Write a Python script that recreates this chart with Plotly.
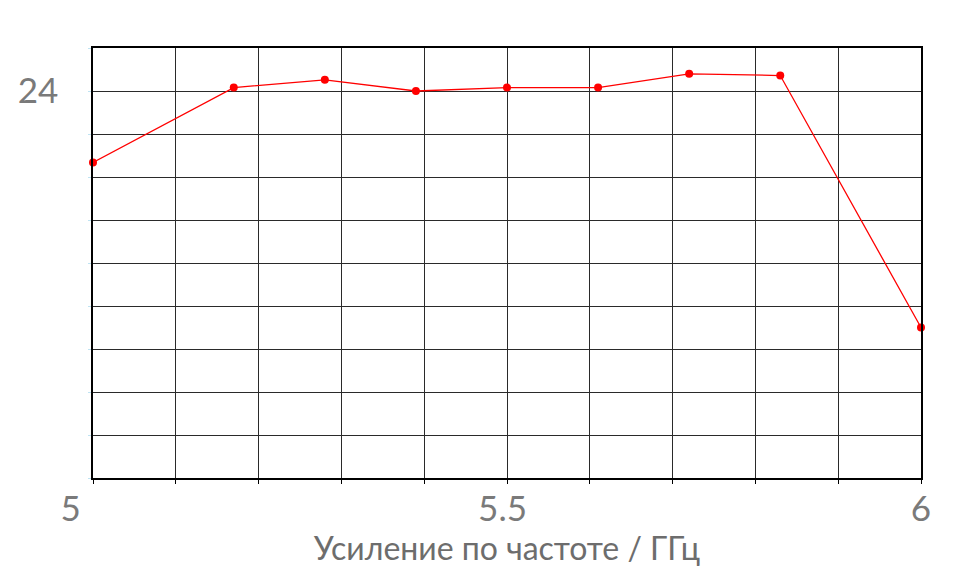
import plotly.graph_objects as go

freq_ghz = [5.0, 5.17, 5.28, 5.39, 5.5, 5.61, 5.72, 5.83, 6.0]
gain_db = [23.17, 24.04, 24.13, 24.0, 24.04, 24.04, 24.2, 24.18, 21.25]

NB = "\u00a0"
x_ticks = [5.0, 5.1, 5.2, 5.3, 5.4, 5.5, 5.6, 5.7, 5.8, 5.9, 6.0]
x_ticktext = ["5" + NB * 5, "", "", "", "", "5.5" + NB, "", "", "", "", "6"]
y_ticks = [19.5, 20.0, 20.5, 21.0, 21.5, 22.0, 22.5, 23.0, 23.5, 24.0, 24.5]
y_ticktext = ["", "", "", "", "", "", "", "", "", "24", ""]

fig = go.Figure()
fig.add_trace(go.Scatter(
    x=freq_ghz, y=gain_db, mode="lines+markers",
    line=dict(color="#ff0000", width=1.3),
    marker=dict(color="#ff0000", size=8),
    cliponaxis=False, showlegend=False,
))

fig.update_layout(
    width=956, height=581,
    margin=dict(l=85, r=43, t=40, b=111),
    paper_bgcolor="white", plot_bgcolor="white",
    font=dict(family="Lato", color="#777777"),
    xaxis=dict(
        range=[5.0, 6.0], tickvals=x_ticks, ticktext=x_ticktext,
        showgrid=True, gridcolor="#2a2a2a", gridwidth=1,
        showline=True, linecolor="black", linewidth=1.5, mirror=True,
        ticks="outside", ticklen=4, tickcolor="black",
        tickfont=dict(size=35, color="#7a7a7a"),
        ticklabelstandoff=-5,
        title=dict(text="Усиление по частоте / ГГц", font=dict(size=32, color="#6d6d6d"), standoff=0),
        zeroline=False, automargin=False,
    ),
    yaxis=dict(
        range=[19.5, 24.5], tickvals=y_ticks, ticktext=y_ticktext,
        showgrid=True, gridcolor="#2a2a2a", gridwidth=1,
        showline=True, linecolor="black", linewidth=1.5, mirror=True,
        ticks="outside", ticklen=3, tickcolor="#bfe3f2",
        tickfont=dict(size=35, color="#7a7a7a"),
        ticklabelstandoff=23,
        zeroline=False, automargin=False,
    ),
)

fig.write_html("out.html")
